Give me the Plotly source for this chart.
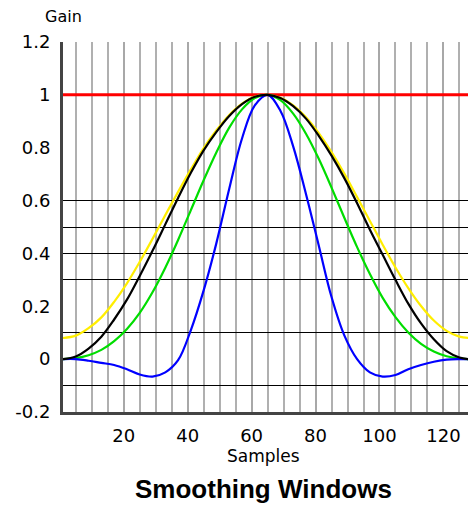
import plotly.graph_objects as go

# sample index along the window (every 4th sample, plus the last one)
samples = [1, 5, 9, 13, 17, 21, 25, 29, 33, 37, 41, 45, 49, 53, 57, 61, 65,
           69, 73, 77, 81, 85, 89, 93, 97, 101, 105, 109, 113, 117, 121, 125, 128]

rect = [1.0] * len(samples)

hamming = [0.08, 0.089, 0.117, 0.158, 0.217, 0.287, 0.368, 0.455, 0.545, 0.633, 0.718,
           0.799, 0.866, 0.924, 0.967, 0.994, 1.0, 0.989, 0.96, 0.915, 0.855, 0.783,
           0.702, 0.613, 0.523, 0.433, 0.347, 0.269, 0.201, 0.146, 0.107, 0.085, 0.08]

hann = [0.0, 0.01, 0.04, 0.085, 0.15, 0.225, 0.315, 0.41, 0.51, 0.61, 0.705,
        0.79, 0.86, 0.92, 0.965, 0.993, 1.0, 0.988, 0.957, 0.91, 0.845, 0.77,
        0.685, 0.59, 0.49, 0.395, 0.3, 0.21, 0.135, 0.075, 0.03, 0.006, 0.0]

blackman = [0.0, 0.004, 0.015, 0.035, 0.068, 0.114, 0.175, 0.253, 0.346, 0.451, 0.564,
            0.677, 0.783, 0.876, 0.945, 0.988, 1.0, 0.98, 0.929, 0.853, 0.758, 0.649,
            0.535, 0.424, 0.322, 0.232, 0.159, 0.101, 0.058, 0.029, 0.011, 0.002, 0.0]

sinc_win = [0.0, 0.0, -0.006, -0.014, -0.022, -0.038, -0.058, -0.066, -0.05, -0.004, 0.11,
            0.26, 0.44, 0.645, 0.835, 0.96, 1.0, 0.94, 0.805, 0.625, 0.43, 0.235,
            0.09, 0.0, -0.05, -0.066, -0.06, -0.038, -0.022, -0.01, -0.002, 0.0, 0.0]

ytick_vals = [-0.2, 0, 0.2, 0.4, 0.6, 0.8, 1, 1.2]
ytick_text = ["-0.2", "0", "0.2", "0.4", "0.6", "0.8", "1", "1.2"]
# the black horizontal rules of the original chart
hline_vals = [-0.1, 0.1, 0.3, 0.4, 0.5, 0.6, 1.2]

tick_font = dict(family="DejaVu Sans", size=18, color="black")

fig = go.Figure()
fig.add_trace(go.Scatter(x=samples, y=rect, mode="lines", line=dict(color="#ff0000", width=3)))
fig.add_trace(go.Scatter(x=samples, y=hamming, mode="lines", line=dict(color="#ffee00", width=2.2, shape="spline")))
fig.add_trace(go.Scatter(x=samples, y=blackman, mode="lines", line=dict(color="#00dd00", width=2.2, shape="spline")))
fig.add_trace(go.Scatter(x=samples, y=sinc_win, mode="lines", line=dict(color="#0000ff", width=2.2, shape="spline")))
fig.add_trace(go.Scatter(x=samples, y=hann, mode="lines", line=dict(color="black", width=2.2, shape="spline")))
# invisible trace so the overlay axis (horizontal rules) gets drawn
fig.add_trace(go.Scatter(x=[samples[0]], y=[0], yaxis="y2", mode="markers",
                         marker=dict(opacity=0), hoverinfo="skip"))

# page body has an 8px margin, so the figure is 8px smaller than the window
fig.update_layout(
    width=468, height=498,
    margin=dict(l=52, r=7, t=34, b=94),
    paper_bgcolor="white", plot_bgcolor="white",
    showlegend=False,
    xaxis=dict(range=[1, 128], tick0=0, dtick=20, ticks="", showgrid=True,
               gridcolor="#a8a8a8", gridwidth=1.5, zeroline=False,
               minor=dict(tick0=0, dtick=5, showgrid=True, gridcolor="#b0b0b0", gridwidth=1.5),
               showline=True, linecolor="#444444", linewidth=3,
               tickfont=tick_font, ticklabelstandoff=5),
    yaxis=dict(range=[-0.2, 1.2], tickvals=ytick_vals, ticktext=ytick_text, ticks="",
               showgrid=False, zeroline=False, showline=True, linecolor="#444444",
               linewidth=3, tickfont=tick_font, ticklabelstandoff=6),
    yaxis2=dict(range=[-0.2, 1.2], overlaying="y", tickvals=hline_vals, showticklabels=False,
                ticks="", showgrid=True, gridcolor="black", gridwidth=1, zeroline=False),
    annotations=[
        dict(text="Gain", x=0, y=1.07, xref="paper", yref="paper", showarrow=False,
             xanchor="center", yanchor="middle", font=dict(family="DejaVu Sans", size=16, color="black")),
        dict(text="Samples", x=0.495, y=-0.118, xref="paper", yref="paper", showarrow=False,
             xanchor="center", yanchor="middle", font=dict(family="DejaVu Sans", size=17, color="black")),
        dict(text="<b>Smoothing Windows</b>", x=0.495, y=-0.207, xref="paper", yref="paper",
             showarrow=False, xanchor="center", yanchor="middle",
             font=dict(family="Liberation Sans", size=26, color="black")),
    ],
)

fig.write_html("out.html")
